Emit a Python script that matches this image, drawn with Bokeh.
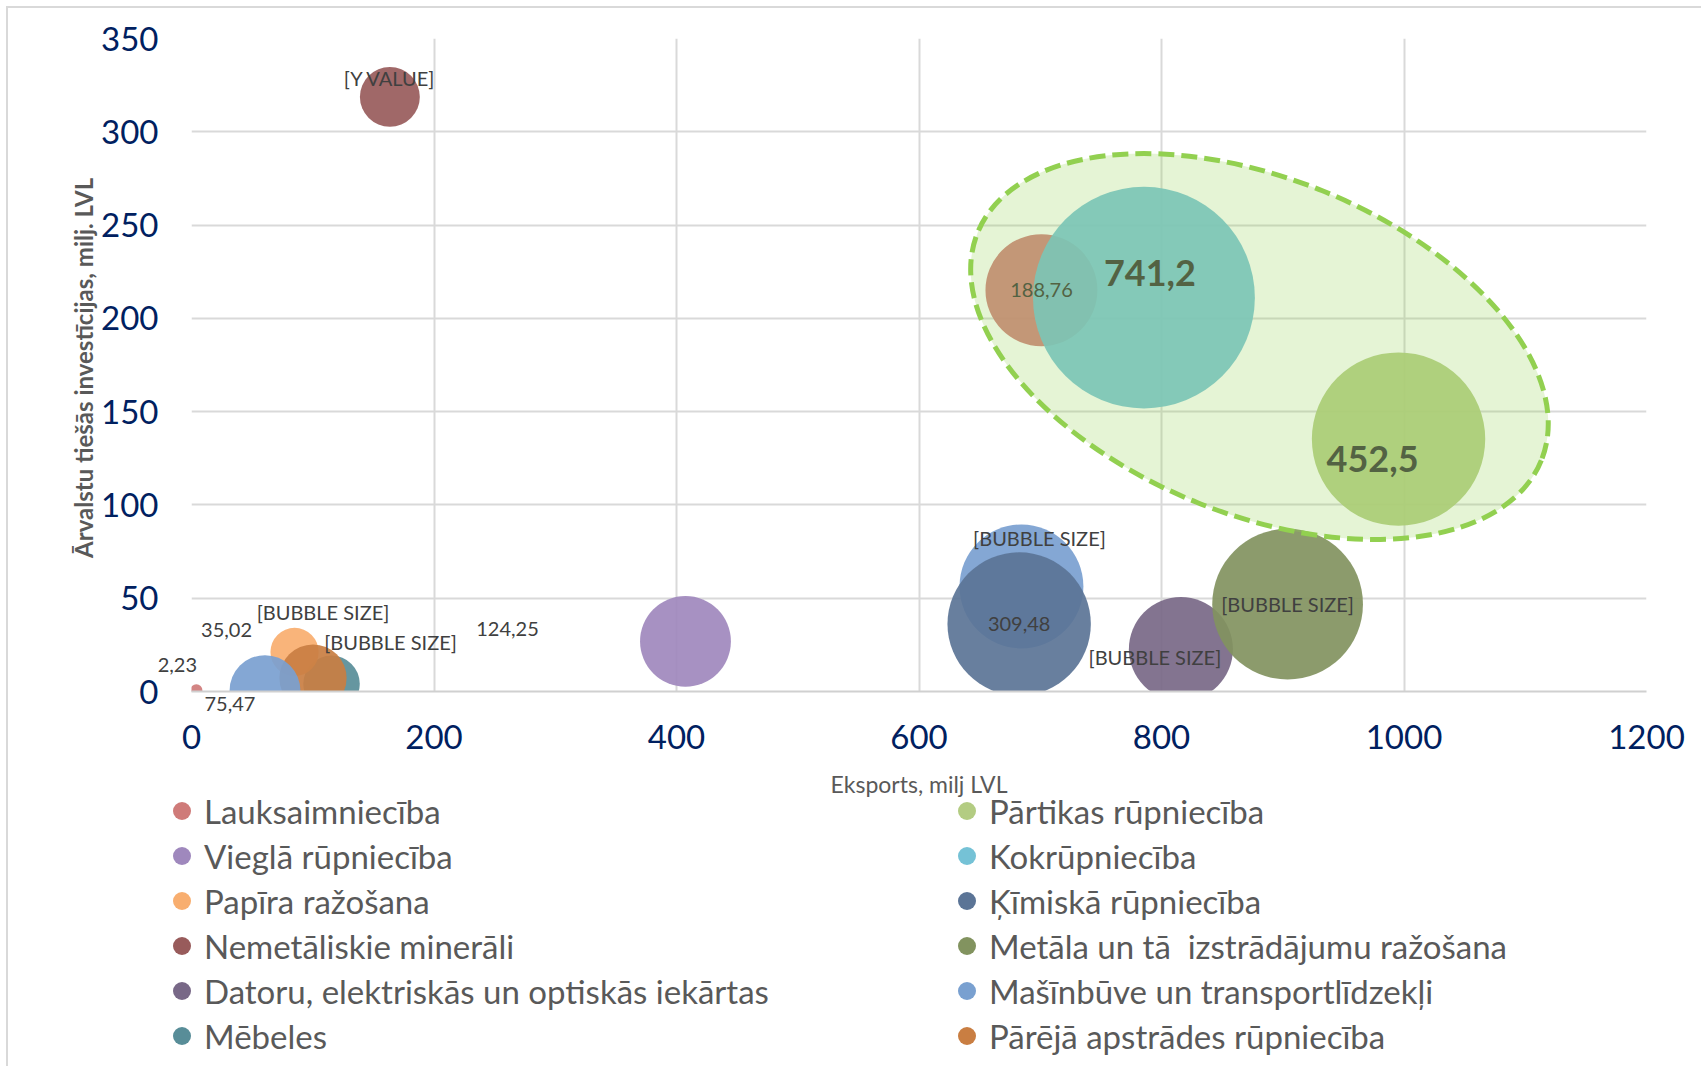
import math
from bokeh.plotting import figure
from bokeh.layouts import column
from bokeh.models import (ColumnDataSource, Legend, LegendItem, SingleIntervalTicker, Range1d, Label)
from bokeh.embed import file_html
from bokeh.resources import INLINE
from bokeh.core.properties import value

# ---------------- data ----------------
sectors = [
    "Lauksaimniecība", "Vieglā rūpniecība", "Papīra ražošana", "Nemetāliskie minerāli",
    "Datoru, elektriskās un optiskās iekārtas", "Mēbeles",
    "Pārtikas rūpniecība", "Kokrūpniecība", "Ķīmiskā rūpniecība",
    "Metāla un tā  izstrādājumu ražošana", "Mašīnbūve un transportlīdzekļi",
    "Pārējā apstrādes rūpniecība",
]
sector_colors = [
    "#CF7B79", "#9F88BD", "#F8AE6F", "#985B5B", "#786887", "#588D98",
    "#B3CC82", "#75C2D6", "#5B7496", "#82935F", "#79A0D0", "#C97E42",
]

# bubbles (in drawing order)
point_sector = [5, 2, 11, 10, 0, 3, 1, 0, 7, 6, 10, 8, 4, 9]
export_x = [115.5, 85.0, 100.2, 60.6, 4.0, 163.6, 407.4, 701.0, 785.5, 995.5, 684.5, 682.6, 816.0, 904.0]
fdi_y = [4.1, 21.2, 7.2, 0.5, 0.6, 318.7, 26.9, 215.1, 211.1, 135.3, 56.3, 36.2, 22.7, 46.8]
bubble_size = [48, 35.02, 68, 75.47, 2.23, 54, 124.25, 188.76, 741.2, 452.5, 231, 309.48, 163, 342]
data_labels = ["[BUBBLE SIZE]", "35,02", "[BUBBLE SIZE]", "75,47", "2,23", "[Y VALUE]",
               "124,25", "188,76", "741,2", "452,5", "[BUBBLE SIZE]", "309,48",
               "[BUBBLE SIZE]", "[BUBBLE SIZE]"]

x_ticks_step = 200
y_ticks_step = 50
x_title = "Eksports, milj LVL"
y_title = "Ārvalstu tiešās investīcijas,  milj. LVL"

# ---------------- layout / style ----------------
label_dx = [59, -68, 10, -35, -19, 0, -178, 0, 6, -26, 18, 0, -26, 0]
label_dy = [-42, -22, -66, 13, -25, -19, -12, 0, -25, 20, -48, 0, 8, 0]
label_big = [False] * len(data_labels)
label_big[8] = True
label_big[9] = True

bubble_scale = 8.15  # px per sqrt(size)

src = ColumnDataSource(dict(
    x=export_x, y=fdi_y,
    d=[bubble_scale * math.sqrt(v) for v in bubble_size],
    color=[sector_colors[s] for s in point_sector],
    label=data_labels,
    dx=label_dx, dy=label_dy,
    fs=["36px" if b else "20px" for b in label_big],
    fst=["bold" if b else "normal" for b in label_big],
))

W = 1693
H_MAIN = 749
H_LEG = 309

p = figure(width=W, height=H_MAIN, output_backend="svg", toolbar_location=None,
           x_range=Range1d(0, 1200), y_range=Range1d(0, 350),
           min_border_left=183, min_border_top=30, min_border_right=55,
           min_border_bottom=66)
p.frame_align = False
p.outline_line_color = None
p.background_fill_color = "white"
p.border_fill_color = "white"

p.xaxis.ticker = SingleIntervalTicker(interval=x_ticks_step)
p.yaxis.ticker = SingleIntervalTicker(interval=y_ticks_step)
p.xgrid.ticker = SingleIntervalTicker(interval=x_ticks_step)
p.ygrid.ticker = SingleIntervalTicker(interval=y_ticks_step)
for g in (p.xgrid, p.ygrid):
    g.grid_line_color = "#D9D9D9"
    g.grid_line_width = 2

for ax in (p.xaxis, p.yaxis):
    ax.major_tick_line_color = None
    ax.minor_tick_line_color = None
    ax.major_tick_out = 0
    ax.major_tick_in = 0
    ax.major_label_text_font = "Lato"
    ax.major_label_text_font_size = "33px"
    ax.major_label_text_color = "#002060"
    ax.axis_label_text_font = "Lato"
    ax.axis_label_text_color = "#595959"

p.xaxis.axis_line_color = "#D0D0D0"
p.xaxis.axis_line_width = 2
p.yaxis.axis_line_color = None
p.xaxis.major_label_standoff = 29
p.yaxis.major_label_standoff = 29
p.yaxis.axis_label = y_title
p.yaxis.axis_label_text_font_size = "24px"
p.yaxis.axis_label_text_font_style = "bold"
p.yaxis.axis_label_standoff = 0

bubbles = p.scatter("x", "y", size="d", source=src, fill_color="color",
                    fill_alpha=0.92, line_color=None)

p.text("x", "y", text="label", source=src, x_offset="dx", y_offset="dy",
       text_font=value("Lato"), text_font_size="fs", text_font_style="fst",
       text_color="#404040", text_align="center", text_baseline="middle",
       level="annotation")

# highlight ellipse drawn over the food / wood group
p.ellipse(x=[880.8], y=[184.9], width=608, height=336, angle=-math.radians(22),
          width_units="screen", height_units="screen",
          fill_color="#92D050", fill_alpha=0.24,
          line_color="#92D050", line_width=5, line_dash="16 7", level="overlay")

# ---------------- legend panel (with x-axis title) ----------------
pl = figure(width=W, height=H_LEG, output_backend="svg", toolbar_location=None,
            x_range=Range1d(0, 1), y_range=Range1d(0, 1),
            x_axis_type=None, y_axis_type=None,
            min_border_left=0, min_border_right=0, min_border_top=0, min_border_bottom=0)
pl.frame_align = False
pl.outline_line_color = None
pl.xgrid.visible = False
pl.ygrid.visible = False
pl.border_fill_color = "white"
pl.background_fill_color = "white"

legend_marks = pl.scatter("x", "y", size="d", source=src, fill_color="color",
                          line_color=None, visible=False)

pl.add_layout(Label(x=910.5, y=H_LEG - 26, x_units="screen", y_units="screen",
                    text=x_title, text_font="Lato", text_font_size="23px",
                    text_color="#595959", text_align="center", text_baseline="middle"))

first_idx = {}
for i, s in enumerate(point_sector):
    first_idx.setdefault(s, i)

def make_legend(ids, loc):
    items = [LegendItem(label=sectors[k], renderers=[legend_marks], index=first_idx[k]) for k in ids]
    return Legend(items=items, location=loc, orientation="vertical",
                  glyph_width=45, glyph_height=45, label_standoff=0, spacing=0,
                  padding=0, margin=0, border_line_color=None, background_fill_alpha=0,
                  label_text_font="Lato", label_text_font_size="33px",
                  label_text_color="#595959")

pl.add_layout(make_legend(range(0, 6), (151, 8)), "center")
pl.add_layout(make_legend(range(6, 12), (936, 8)), "center")

layout = column(p, pl, spacing=0)
layout.styles = {"margin-left": "6px", "margin-top": "6px",
                 "border-top": "2px solid #D9D9D9", "border-left": "2px solid #D9D9D9"}

open("out.html", "w").write(file_html(layout, INLINE))
